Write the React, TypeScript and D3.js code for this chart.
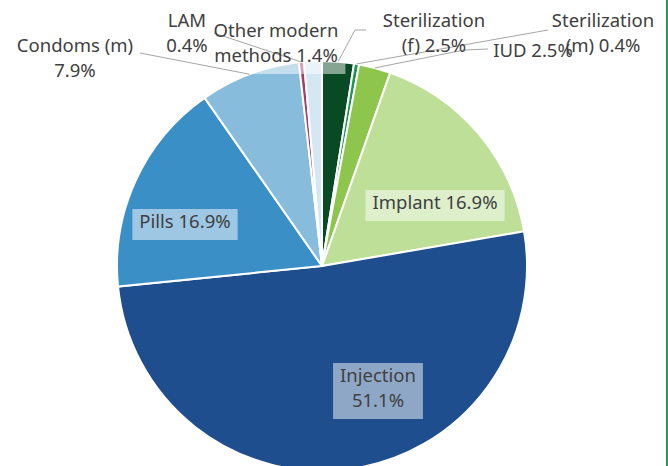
import React, { useRef, useEffect } from 'react';
import * as d3 from 'd3';

// Contraceptive method mix, clockwise from 12 o'clock
const categories = [
  'Sterilization (f)',
  'Sterilization (m)',
  'IUD',
  'Implant',
  'Injection',
  'Pills',
  'Condoms (m)',
  'LAM',
  'Other modern methods',
];
const shares = [2.5, 0.4, 2.5, 16.9, 51.1, 16.9, 7.9, 0.4, 1.4];
const labelText = [
  ['Sterilization', '(f) 2.5%'],
  ['Sterilization', '(m) 0.4%'],
  ['IUD 2.5%'],
  ['Implant 16.9%'],
  ['Injection', '51.1%'],
  ['Pills 16.9%'],
  ['Condoms (m)', '7.9%'],
  ['LAM', '0.4%'],
  ['Other modern', 'methods 1.4%'],
];
const sliceColors = [
  '#074a24', '#1e9650', '#8dc54d', '#bddf97', '#1f4e8e',
  '#3a8fc6', '#88bcdd', '#a33c6b', '#d6e7f4',
];

// where each data label sits (center x, first baseline) and its leader elbow points
const labelLayout: { x: number; y: number; box: boolean; leader?: [number, number][] }[] = [
  { x: 434, y: 27, box: false, leader: [[366, 30], [355, 30]] },
  { x: 603, y: 27, box: false, leader: [[548, 30]] },
  { x: 533, y: 57, box: false, leader: [[488, 49], [464, 50]] },
  { x: 435, y: 209, box: true },
  { x: 378, y: 382, box: true },
  { x: 185, y: 228, box: true },
  { x: 75, y: 52, box: false, leader: [[140, 53]] },
  { x: 187, y: 27, box: false, leader: [[214, 33]] },
  { x: 276, y: 37, box: true },
];

const W = 668;
const H = 466;
const CX = 322;
const CY = 266;
const R = 205;
const LINE_H = 25;

export default function App() {
  const svgRef = useRef<SVGSVGElement>(null);

  useEffect(() => {
    if (!svgRef.current) return;
    const svg = d3.select(svgRef.current);
    svg.selectAll('*').remove();

    const data = categories.map((c, i) => ({ name: c, value: shares[i], i }));
    const pie = d3.pie<any>().sort(null).value(d => d.value);
    const arcs = pie(data);
    const arc = d3.arc<any>().innerRadius(0).outerRadius(R);

    const g = svg.append('g').attr('transform', `translate(${CX},${CY})`);
    g.selectAll('path.slice')
      .data(arcs)
      .enter()
      .append('path')
      .attr('class', 'slice')
      .attr('d', arc)
      .attr('fill', d => sliceColors[d.data.i])
      .attr('stroke', '#fff')
      .attr('stroke-width', 2);

    const boxLayer = svg.append('g');
    const lineLayer = svg.append('g');
    const textLayer = svg.append('g');

    arcs.forEach(a => {
      const i = a.data.i;
      const lay = labelLayout[i];
      const lines = labelText[i];

      const t = textLayer
        .append('text')
        .attr('x', lay.x)
        .attr('y', lay.y)
        .attr('text-anchor', 'middle')
        .style('font-family', '"Noto Sans", sans-serif')
        .style('font-size', '18.5px')
        .style('fill', '#404040');
      lines.forEach((ln, k) => {
        t.append('tspan').attr('x', lay.x).attr('dy', k === 0 ? 0 : LINE_H).text(ln);
      });

      if (lay.box) {
        const bb = (t.node() as SVGTextElement).getBBox();
        boxLayer
          .append('rect')
          .attr('x', bb.x - 7)
          .attr('y', bb.y + 1)
          .attr('width', bb.width + 14)
          .attr('height', bb.height + 6)
          .attr('fill', '#fff')
          .attr('fill-opacity', 0.5);
      }

      if (lay.leader) {
        const mid = (a.startAngle + a.endAngle) / 2;
        const end: [number, number] = [CX + R * Math.sin(mid), CY - R * Math.cos(mid)];
        lineLayer
          .append('path')
          .attr('d', d3.line()([...lay.leader, end]))
          .attr('fill', 'none')
          .attr('stroke', '#a6a6a6')
          .attr('stroke-width', 1);
      }
    });

    // frame edge on the right
    svg
      .append('line')
      .attr('x1', W - 1)
      .attr('x2', W - 1)
      .attr('y1', 0)
      .attr('y2', H)
      .attr('stroke', '#1e9b4b')
      .attr('stroke-width', 2);
  }, []);

  return (
    <div style={{ position: 'absolute', left: 0, top: 0, width: W, height: H, background: '#fff' }}>
      <svg ref={svgRef} width={W} height={H} style={{ display: 'block' }}></svg>
    </div>
  );
}
